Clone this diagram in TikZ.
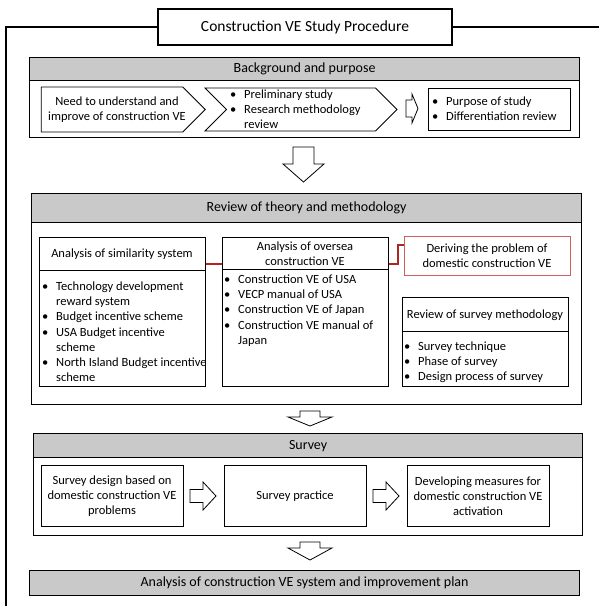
\documentclass[tikz,border=0pt]{standalone}
\usepackage{fontspec}
\setmainfont{Carlito}
\usepackage{tikz}
\usetikzlibrary{positioning,calc,shapes.symbols}
\definecolor{hdrgray}{RGB}{201,201,201}
\definecolor{linkred}{RGB}{176,36,36}
\definecolor{boxred}{RGB}{206,96,96}
\newcommand{\bodyfont}{\fontsize{12.5}{15.2}\selectfont}
\newcommand{\hdrfont}{\fontsize{14}{17}\selectfont}
\newcommand{\ttlfont}{\fontsize{15.5}{18}\selectfont}
\newcommand{\blist}[1]{\begin{tabular}[t]{@{}p{14pt}@{}l@{}}#1\end{tabular}}
\tikzset{
  frame/.style={line width=1.1pt},
  ttl/.style={draw,line width=1.3pt,fill=white,font=\ttlfont,inner sep=0pt},
  panel/.style={draw,line width=1.2pt,inner sep=0pt,anchor=north west},
  hdr/.style={draw,line width=1.2pt,fill=hdrgray,font=\hdrfont,inner sep=0pt,anchor=north west},
  box/.style={draw,line width=0.8pt,inner sep=0pt,anchor=north west},
  redbox/.style={box,draw=boxred,line width=1pt},
  sig/.style={draw,shape=signal,line width=0.8pt,inner sep=0pt},
  txt/.style={font=\bodyfont,inner sep=0pt,align=center},
  lst/.style={font=\bodyfont,inner sep=0pt,anchor=base west},
  blk/.style={draw,line width=0.8pt,fill=white,line join=miter},
  link/.style={draw=linkred,line width=2.2pt},
}
\begin{document}
\begin{tikzpicture}[x=1pt,y=-1pt]
  \useasboundingbox (0,0) rectangle (599,606);
  % title and outer frame
  \node[ttl,minimum width=294pt,minimum height=36pt] (title) at (305,27) {Construction VE Study Procedure};
  \draw[frame] (title.west) -- (6,27) -- (6,606);
  \draw[frame] (title.east) -- (599,27);

  % ---- background and purpose ----
  \node[panel,minimum width=550pt,minimum height=80pt] (bgp) at (29,57) {};
  \node[hdr,minimum width=550pt,minimum height=23pt] (bgh) at (29,57) {Background and purpose};
  \node[sig,signal to=east,minimum width=164pt,minimum height=45pt] (need) at (112,109.5) {};
  \node[txt] (needtxt) at (117,110) {Need to understand and\\improve of construction VE};
  \node[sig,signal from=west,signal to=east,minimum width=192pt,minimum height=43pt] (prelim) at (301,109.5) {};
  \node[lst] (prelimtxt) at (230,98.5) {\blist{\textbullet & Preliminary study\\ \textbullet & Research methodology\\ & review}};
  \node[box,minimum width=142pt,minimum height=42pt] (purp) at (428,88) {};
  \node[lst] (purptxt) at (432,105.5) {\blist{\textbullet & Purpose of study\\ \textbullet & Differentiation review}};

  % ---- review of theory and methodology ----
  \node[panel,minimum width=550pt,minimum height=211pt] (rvp) at (31,193) {};
  \node[hdr,minimum width=550pt,minimum height=29pt] (rvh) at (31,193) {Review of theory and methodology};
  % similarity system
  \node[box,minimum width=166pt,minimum height=149pt] (sim) at (39,237) {};
  \draw[line width=0.8pt] (sim.west |- 0,270) -- (sim.east |- 0,270);
  \node[txt] (simhd) at (122,254) {Analysis of similarity system};
  \node[lst] (simtxt) at (42,290.5) {\blist{\textbullet & Technology development\\ & reward system\\
    \textbullet & Budget incentive scheme\\ \textbullet & USA Budget incentive\\ & scheme\\
    \textbullet & North Island Budget incentive\\ & scheme}};
  % oversea construction VE
  \node[box,minimum width=166pt,minimum height=149pt] (ovs) at (222,237) {};
  \draw[line width=0.8pt] (ovs.west |- 0,269) -- (ovs.east |- 0,269);
  \node[txt] (ovshd) at (305,254) {Analysis of oversea\\construction VE};
  \node[lst] (ovstxt) at (224,283.5) {\blist{\textbullet & Construction VE of USA\\ \textbullet & VECP manual of USA\\
    \textbullet & Construction VE of Japan\\ \textbullet & Construction VE manual of\\ & Japan}};
  % deriving the problem
  \node[redbox,minimum width=166pt,minimum height=39pt] (drv) at (404,236) {};
  \node[txt] (drvtxt) at (487,255.5) {Deriving the problem of\\domestic construction VE};
  % survey methodology
  \node[box,minimum width=166pt,minimum height=89pt] (smt) at (402,297) {};
  \draw[line width=0.8pt] (smt.west |- 0,331) -- (smt.east |- 0,331);
  \node[txt] (smthd) at (485,315) {Review of survey methodology};
  \node[lst] (smttxt) at (404,350.5) {\blist{\textbullet & Survey technique\\ \textbullet & Phase of survey\\
    \textbullet & Design process of survey}};
  % red links
  \coordinate (lka) at (0,264);
  \coordinate (lkb) at (0,245);
  \draw[link] (sim.east |- lka) -- (ovs.west |- lka);
  \draw[link] (ovs.east |- lka) -- ++(9,0) |- (drv.west |- lkb);

  % ---- survey ----
  \node[panel,minimum width=549pt,minimum height=102pt] (svp) at (33,433) {};
  \node[hdr,minimum width=549pt,minimum height=24pt] (svh) at (33,433) {Survey};
  \node[box,minimum width=142pt,minimum height=61pt] (sva) at (41,465) {};
  \node[txt] (svatxt) at (112,496) {Survey design based on\\domestic construction VE\\problems};
  \node[box,minimum width=142pt,minimum height=61pt] (svb) at (224,465) {};
  \node[txt] (svbtxt) at (295,496) {Survey practice};
  \node[box,minimum width=142pt,minimum height=61pt] (svc) at (407,465) {};
  \node[txt] (svctxt) at (478,496) {Developing measures for\\domestic construction VE\\activation};

  % ---- final result ----
  \node[hdr,minimum width=550pt,minimum height=25pt] (fin) at (29,570) {Analysis of construction VE system and improvement plan};

  % block arrows pointing down
  \foreach \cx/\ta/\tb/\tc/\sw/\hw in {303.5/147/164/182/10.5/20.5, 310/411/417/426/10/22, 310/542/548/560/10/22}{
    \draw[blk] (\cx-\sw,\ta) -- (\cx+\sw,\ta) -- (\cx+\sw,\tb) -- (\cx+\hw,\tb) -- (\cx,\tc)
      -- (\cx-\hw,\tb) -- (\cx-\sw,\tb) -- cycle;
  }
  % block arrows pointing right
  \foreach \lx/\hx/\rx/\cy/\sh/\hh in {406/412/418/108.5/8.5/14.5, 190/203/216/496/6.5/14, 373/386/399/496/6.5/14}{
    \draw[blk] (\lx,\cy-\sh) -- (\hx,\cy-\sh) -- (\hx,\cy-\hh) -- (\rx,\cy) -- (\hx,\cy+\hh)
      -- (\hx,\cy+\sh) -- (\lx,\cy+\sh) -- cycle;
  }
\end{tikzpicture}
\end{document}
